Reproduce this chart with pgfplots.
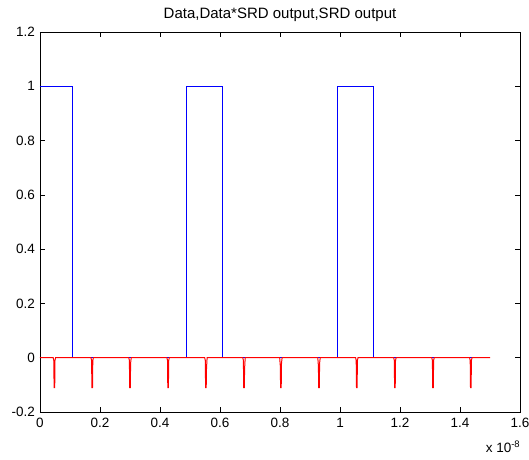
\documentclass[border=0pt]{standalone}
\usepackage{fontspec}
\setmainfont{Liberation Sans}
\usepackage{pgfplots}
\pgfplotsset{compat=1.18}
\begin{document}
\begin{tikzpicture}[x=1pt,y=1pt]
\path[use as bounding box] (0,0) rectangle (529,459);
\begin{axis}[at={(40pt,47pt)}, anchor=south west, scale only axis,
  width=480pt, height=380pt,
  xmin=0, xmax=1.6, ymin=-0.2, ymax=1.2,
  xtick={0,0.2,0.4,0.6,0.8,1,1.2,1.4,1.6},
  ytick={-0.2,0,0.2,0.4,0.6,0.8,1,1.2},
  tick align=inside, major tick length=5pt,
  tick style={black, line width=0.5pt},
  axis line style={black, line width=0.6pt},
  ticklabel style={font=\fontsize{13.5}{15}\selectfont},
  yticklabel style={xshift=-1.5pt},
  xticklabel style={yshift=-3pt},
  /pgf/number format/assume math mode=true,
  /pgf/number format/fixed,
  title={Data,Data*SRD output,SRD output},
  title style={font=\fontsize{15}{17}\selectfont, at={(0.5,1)}, anchor=center, yshift=11pt},
  clip=false]
\addplot[blue, line width=0.8pt] coordinates {
(0,1) (0.107,1) (0.107,0) (0.487,0) (0.487,1) (0.607,1) (0.607,0)
(0.99,0) (0.99,1) (1.11,1) (1.11,0) (1.5,0)};
\addplot[red, line width=1pt] coordinates {
(0,0)
(0.044,0) (0.046,-0.01) (0.047,-0.11) (0.049,-0.11) (0.050,-0.01) (0.052,0)
(0.170,0) (0.172,-0.01) (0.173,-0.11) (0.175,-0.11) (0.176,-0.01) (0.178,0)
(0.296,0) (0.298,-0.01) (0.299,-0.11) (0.301,-0.11) (0.302,-0.02) (0.304,0)
(0.423,0) (0.425,-0.01) (0.426,-0.11) (0.428,-0.11) (0.429,-0.01) (0.431,0)
(0.549,0) (0.551,-0.01) (0.552,-0.11) (0.554,-0.11) (0.555,-0.04) (0.557,0)
(0.676,0) (0.678,-0.01) (0.679,-0.11) (0.681,-0.11) (0.682,-0.04) (0.684,0)
(0.799,0) (0.801,-0.03) (0.802,-0.11) (0.804,-0.11) (0.805,-0.02) (0.807,0)
(0.926,0) (0.928,-0.03) (0.929,-0.11) (0.931,-0.11) (0.932,-0.02) (0.934,0)
(1.052,0) (1.054,-0.01) (1.055,-0.11) (1.057,-0.11) (1.058,-0.01) (1.060,0)
(1.179,0) (1.181,-0.01) (1.182,-0.11) (1.184,-0.11) (1.185,-0.01) (1.187,0)
(1.306,0) (1.308,-0.01) (1.309,-0.11) (1.311,-0.11) (1.312,-0.01) (1.314,0)
(1.432,0) (1.434,-0.01) (1.435,-0.11) (1.437,-0.11) (1.438,-0.01) (1.440,0)
(1.5,0)};
\end{axis}
\node[font=\fontsize{13.5}{15}\selectfont] at (503,12) {x 10\textsuperscript{-8}};
\end{tikzpicture}
\end{document}
